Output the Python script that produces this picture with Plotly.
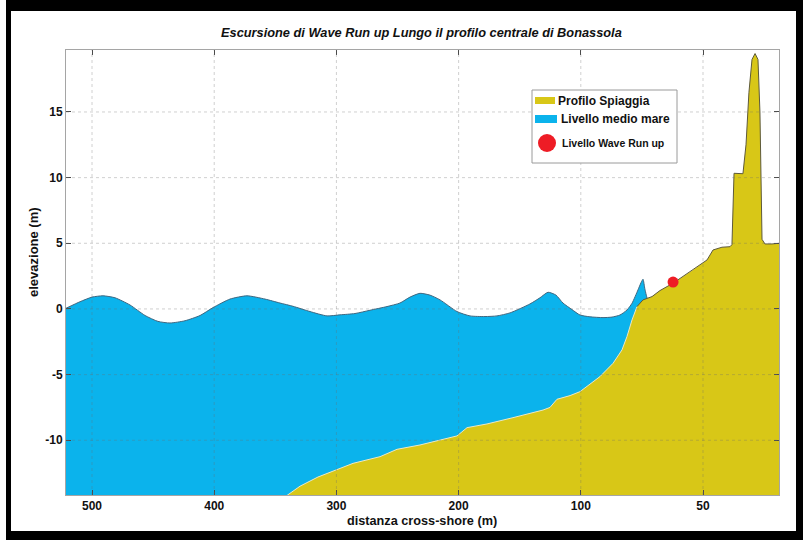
import plotly.graph_objects as go

# ---------------- data ----------------
# free water surface (Livello medio mare) - distance (m) vs elevation (m)
surface_x = [521.3, 509.8, 500.0, 491.0, 481.2, 468.9, 456.6, 446.0, 436.2, 423.9,
             411.6, 401.0, 387.1, 373.2, 358.4, 346.2, 335.5, 321.6, 307.7, 297.1,
             284.8, 272.5, 258.6, 248.0, 239.8, 231.6, 223.4, 215.2, 201.3, 190.7,
             178.4, 168.6, 157.9, 141.6, 133.4, 126.8, 120.3, 114.6, 107.2, 100.7,
             92.5, 81.8, 74.5, 67.9, 62.2, 58.1, 53.2, 50.7, 49.1, 47.5, 45.0, 41.7]
surface_y = [0.05, 0.55, 0.9, 1.0, 0.85, 0.3, -0.5, -0.95, -1.07, -0.9,
             -0.5, 0.1, 0.75, 1.0, 0.75, 0.45, 0.2, -0.2, -0.53, -0.45,
             -0.35, -0.1, 0.18, 0.45, 0.9, 1.19, 1.05, 0.69, -0.2, -0.53,
             -0.58, -0.53, -0.3, 0.38, 0.85, 1.27, 1.05, 0.45, -0.05, -0.46,
             -0.6, -0.66, -0.62, -0.46, -0.08, 0.43, 1.45, 2.0, 2.26, 1.5, 0.69, 0.81]

# beach profile (Profilo Spiaggia)
profile_x = [340.4, 329.8, 315.1, 301.1, 286.4, 264.3, 250.4, 231.6, 215.2, 201.3,
             193.1, 176.8, 155.5, 130.9, 125.2, 119.5, 108.8, 100.7, 84.3, 73.6,
             66.3, 62.2, 58.1, 54.0, 49.1, 41.7, 35.2, 24.5, 8.2, -3.3,
             -8.2, -15.5, -22.1, -23.7, -25.4, -32.7, -35.2, -37.6, -40.1, -42.6,
             -45.0, -46.6, -48.3, -50.7, -56.5, -62.2]
profile_y = [-14.2, -13.5, -12.8, -12.3, -11.76, -11.25, -10.69, -10.36, -9.98, -9.67,
             -9.04, -8.76, -8.28, -7.7, -7.5, -6.88, -6.6, -6.3, -5.15, -4.14,
             -3.12, -2.1, -0.84, 0.18, 0.69, 0.94, 1.4, 1.96, 2.97, 3.73,
             4.49, 4.7, 4.74, 4.9, 10.33, 10.3, 12.5, 16.5, 19.0, 19.45,
             19.0, 15.0, 5.3, 4.95, 4.95, 5.0]

# wave run-up level
runup_x = [24.5]
runup_y = [2.05]

x_tick_vals = [500, 400, 300, 200, 100, 0]
x_tick_labels = ["500", "400", "300", "200", "100", "50"]
y_tick_vals = [-10, -5, 0, 5, 10, 15]
y_tick_labels = ["-10", "-5", "0", "5", "10", "15"]

legend_labels = ["Profilo Spiaggia", "Livello medio mare", "Livello Wave Run up"]

# ---------------- layout constants ----------------
W, H = 803, 540
PL, PR, PT, PB = 66, 779, 50, 495
X_RANGE = [521.3, -62.2]
Y_RANGE = [-14.17, 19.72]

BLUE = "#0BB3EC"
YELLOW = "#D8C717"
RED = "#EE1C25"
FONT = "Liberation Sans, Arial, sans-serif"


def fx(p):
    return (p - PL) / (PR - PL)


def fy(p):
    return (PB - p) / (PB - PT)


fig = go.Figure()

ybot = Y_RANGE[0] - 1
# water area: baseline + smoothed surface filled to it
fig.add_trace(go.Scatter(
    x=[surface_x[0], surface_x[-1]], y=[ybot, ybot], mode="lines",
    line=dict(width=0), showlegend=False, hoverinfo="skip"))
fig.add_trace(go.Scatter(
    x=surface_x, y=surface_y, mode="lines", fill="tonexty", fillcolor=BLUE,
    line=dict(color="#3F6780", width=1, shape="spline", smoothing=0.6),
    name=legend_labels[1], showlegend=False, hoverinfo="skip"))

# beach area
fig.add_trace(go.Scatter(
    x=profile_x + [profile_x[-1], profile_x[0]],
    y=profile_y + [ybot, ybot],
    fill="toself", fillcolor=YELLOW, mode="lines", line=dict(width=0),
    name=legend_labels[0], showlegend=False, hoverinfo="skip"))
split = 23
fig.add_trace(go.Scatter(
    x=profile_x[:split + 1], y=profile_y[:split + 1], mode="lines",
    line=dict(color="#ECE8C4", width=1), showlegend=False, hoverinfo="skip"))
fig.add_trace(go.Scatter(
    x=profile_x[split:], y=profile_y[split:], mode="lines",
    line=dict(color="#5E5A3A", width=1), showlegend=False, hoverinfo="skip"))

# run-up point
fig.add_trace(go.Scatter(
    x=runup_x, y=runup_y, mode="markers",
    marker=dict(color=RED, size=11, line=dict(width=0)),
    name=legend_labels[2], showlegend=False))

shapes = []
# grid lines drawn above the fills (dotted)
grid_col = "rgba(110,110,110,0.32)"
for v in x_tick_vals:
    shapes.append(dict(type="line", xref="x", yref="paper", x0=v, x1=v, y0=0, y1=1,
                       line=dict(color=grid_col, width=1, dash="dot"), layer="above"))
for v in y_tick_vals:
    shapes.append(dict(type="line", xref="paper", yref="y", x0=0, x1=1, y0=v, y1=v,
                       line=dict(color=grid_col, width=1, dash="dot"), layer="above"))

# legend box
shapes.append(dict(type="rect", xref="paper", yref="paper",
                   x0=fx(532), x1=fx(677), y0=fy(163), y1=fy(90),
                   fillcolor="white", line=dict(color="#9A9A9A", width=1), layer="above"))
shapes.append(dict(type="rect", xref="paper", yref="paper",
                   x0=fx(535), x1=fx(555), y0=fy(104), y1=fy(97),
                   fillcolor=YELLOW, line=dict(width=0), layer="above"))
shapes.append(dict(type="rect", xref="paper", yref="paper",
                   x0=fx(535), x1=fx(557), y0=fy(123), y1=fy(115),
                   fillcolor=BLUE, line=dict(width=0), layer="above"))
shapes.append(dict(type="circle", xref="paper", yref="paper",
                   x0=fx(538), x1=fx(556), y0=fy(152), y1=fy(134),
                   fillcolor=RED, line=dict(width=0), layer="above"))

# outer black frame
for (x0, x1, y0, y1) in [(6, 11, 0, 540), (796, 803, 0, 540), (6, 803, 0, 11), (6, 803, 531, 540)]:
    shapes.append(dict(type="rect", xref="paper", yref="paper",
                       x0=fx(x0), x1=fx(x1), y0=fy(y1), y1=fy(y0),
                       fillcolor="black", line=dict(width=0), layer="above"))

annotations = [
    dict(text="Escursione di Wave Run up Lungo il profilo centrale di Bonassola",
         xref="paper", yref="paper", x=fx(421), y=fy(33), showarrow=False,
         font=dict(family=FONT, size=12.8, color="#111", weight="bold", style="italic"),
         xanchor="center", yanchor="middle"),
    dict(text="distanza cross-shore (m)", xref="paper", yref="paper",
         x=fx(422), y=fy(521), showarrow=False,
         font=dict(family=FONT, size=12.7, color="#111", weight="bold"),
         xanchor="center", yanchor="middle"),
    dict(text="elevazione (m)", xref="paper", yref="paper",
         x=fx(34), y=fy(252), showarrow=False, textangle=-90,
         font=dict(family=FONT, size=13, color="#111", weight="bold"),
         xanchor="center", yanchor="middle"),
    dict(text=legend_labels[0], xref="paper", yref="paper", x=fx(556), y=fy(101),
         showarrow=False, xanchor="left", yanchor="middle",
         font=dict(family=FONT, size=12, color="#111", weight="bold")),
    dict(text=legend_labels[1], xref="paper", yref="paper", x=fx(559), y=fy(119),
         showarrow=False, xanchor="left", yanchor="middle",
         font=dict(family=FONT, size=12, color="#111", weight="bold")),
    dict(text=legend_labels[2], xref="paper", yref="paper", x=fx(560), y=fy(143),
         showarrow=False, xanchor="left", yanchor="middle",
         font=dict(family=FONT, size=10.5, color="#111", weight="bold")),
]

axis_common = dict(
    showgrid=False, zeroline=False, showline=True, mirror="allticks",
    linecolor="#A5A5A5", linewidth=1, ticks="inside", ticklen=5,
    tickcolor="#4A4A4A", layer="above traces",
    tickfont=dict(family=FONT, size=12, color="#111", weight="bold"),
)

fig.update_layout(
    width=W, height=H,
    margin=dict(l=PL, r=W - PR, t=PT, b=H - PB, autoexpand=False),
    paper_bgcolor="white", plot_bgcolor="white",
    showlegend=False,
    xaxis=dict(range=X_RANGE, tickmode="array", tickvals=x_tick_vals,
               ticktext=x_tick_labels, **axis_common),
    yaxis=dict(range=Y_RANGE, tickmode="array", tickvals=y_tick_vals,
               ticktext=y_tick_labels, **axis_common),
    shapes=shapes, annotations=annotations,
)

fig.write_html("out.html",
               config={"displayModeBar": False},
               post_script="document.body.style.margin='0';document.body.style.overflow='hidden';")
